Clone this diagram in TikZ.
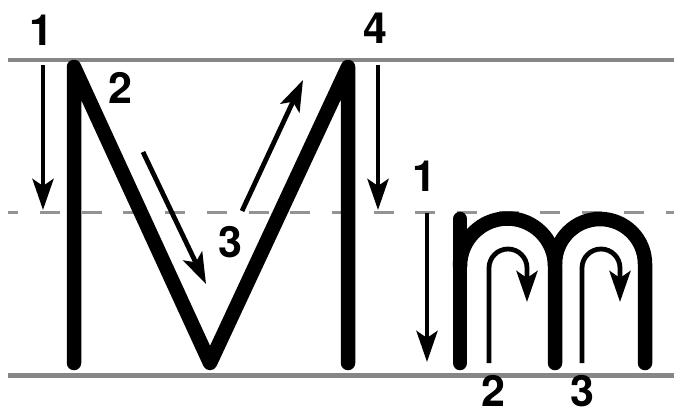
\documentclass[tikz,border=0pt]{standalone}
\usepackage{fontspec}
\setmainfont{TeX Gyre Heros}
\usetikzlibrary{arrows.meta}
\begin{document}
\begin{tikzpicture}[x=1pt,y=1pt,
  guide/.style={draw=gray!95, line width=4.5pt},
  midguide/.style={draw=gray!85, line width=2.6pt, dash pattern=on 20pt off 21.7pt, dash phase=9.7pt},
  letter/.style={draw=black, line width=14.5pt, line cap=round, line join=round},
  strokearrow/.style={draw=black, line width=4.8pt, -{Stealth[length=31pt,width=21pt,inset=7pt]}},
  num/.style={inner sep=0pt, font=\fontsize{43}{43}\selectfont\bfseries}]
\useasboundingbox (0,0) rectangle (674,416);
% guide lines
\coordinate (tl) at (8,356); \coordinate (tr) at (674,356);
\coordinate (ml) at (8,203.5); \coordinate (mr) at (674,203.5);
\coordinate (bl) at (8,40.5); \coordinate (br) at (674,40.5);
\draw[guide] (tl) -- (tr);
\draw[midguide] (ml) -- (mr);
\draw[guide] (bl) -- (br);
% capital M
\coordinate (M1) at (74,53);
\coordinate (M2) at (74,349);
\coordinate (M3) at (210,53);
\coordinate (M4) at (348,349);
\coordinate (M5) at (348,53);
\draw[letter] (M1) -- (M2) -- (M3) -- (M4) -- (M5);
% small m
\coordinate (m1) at (460,53);
\coordinate (m2) at (460,197);
\coordinate (m3) at (460,150);
\coordinate (m4) at (555,53);
\coordinate (m5) at (555,152);
\coordinate (m6) at (645,53);
\draw[letter] (m1) -- (m2);
\draw[letter] (m3) arc (180:0:47.5) -- (m4);
\draw[letter] (m5) arc (180:0:45) -- (m6);
% arrows for M
\coordinate (a1s) at (43,351); \coordinate (a1e) at (43,206);
\coordinate (a2s) at (143,264); \coordinate (a2e) at (206,132);
\coordinate (a3s) at (242,205); \coordinate (a3e) at (303,336);
\coordinate (a4s) at (378,351); \coordinate (a4e) at (378,206);
\draw[strokearrow] (a1s) -- (a1e);
\draw[strokearrow] (a2s) -- (a2e);
\draw[strokearrow] (a3s) -- (a3e);
\draw[strokearrow] (a4s) -- (a4e);
% arrows for m
\coordinate (b1s) at (427,203); \coordinate (b1e) at (427,54);
\draw[strokearrow] (b1s) -- (b1e);
\coordinate (b2s) at (489,53); \coordinate (b2m) at (489,148); \coordinate (b2e) at (527,114);
\draw[strokearrow] (b2s) -- (b2m) arc (180:0:19) -- (b2e);
\coordinate (b3s) at (582,53); \coordinate (b3m) at (582,148); \coordinate (b3e) at (620,114);
\draw[strokearrow] (b3s) -- (b3m) arc (180:0:19) -- (b3e);
% numbers
\node[num] (n1) at (41,386) {1};
\node[num] (n2) at (120,328) {2};
\node[num] (n3) at (230,174) {3};
\node[num] (n4) at (375,387.5) {4};
\node[num] (n5) at (424,240) {1};
\node[num] (n6) at (493,25) {2};
\node[num] (n7) at (582,25) {3};
\end{tikzpicture}
\end{document}
